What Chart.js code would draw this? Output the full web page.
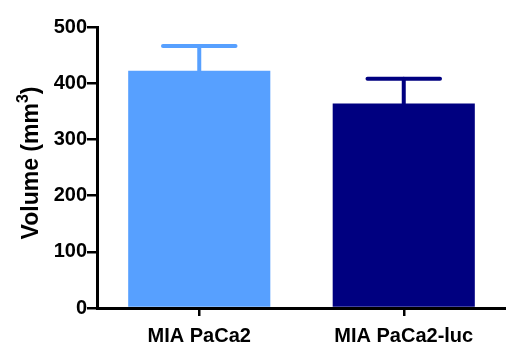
<!DOCTYPE html>
<html>
<head>
<meta charset="utf-8">
<script src="https://cdn.jsdelivr.net/npm/chart.js@4"></script>
<style>
  html, body { margin: 0; padding: 0; background: #fff; }
  #wrap { width: 506px; height: 344px; position: relative; }
</style>
</head>
<body>
<div id="wrap"><canvas id="chart"></canvas></div>
<script>
// données
const categories = ["MIA PaCa2", "MIA PaCa2-luc"]
const volumes = [422, 364]
const errors = [44, 44]
const barColors = ["#57a0ff", "#000080"]
const yTicks = [0, 100, 200, 300, 400, 500]

// barres d'erreur (moyenne + SEM, uniquement vers le haut)
const errorBars = {
    id: "errorBars",
    afterDatasetsDraw(chart) {
        const ctx = chart.ctx
        const meta = chart.getDatasetMeta(0)
        const yScale = chart.scales.y
        meta.data.forEach((bar, i) => {
            const top = yScale.getPixelForValue(volumes[i] + errors[i])
            const half = bar.width * 0.255
            ctx.save()
            ctx.strokeStyle = barColors[i]
            ctx.lineCap = "round"
            ctx.lineWidth = 4
            ctx.beginPath()
            ctx.moveTo(bar.x, bar.y)
            ctx.lineTo(bar.x, top)
            ctx.stroke()
            ctx.beginPath()
            ctx.moveTo(bar.x - half, top)
            ctx.lineTo(bar.x + half, top)
            ctx.stroke()
            ctx.restore()
        })
    },
}

// titre de l'axe Y avec exposant
const yTitle = {
    id: "yTitle",
    afterDraw(chart) {
        const ctx = chart.ctx
        const big = "bold 23px 'Liberation Sans', Arial, sans-serif"
        const small = "bold 16px 'Liberation Sans', Arial, sans-serif"
        const main = "Volume (mm"
        const sup = "3"
        const end = ")"
        ctx.save()
        ctx.fillStyle = "#000"
        ctx.textBaseline = "alphabetic"
        ctx.font = big
        const w1 = ctx.measureText(main).width
        const w3 = ctx.measureText(end).width
        ctx.font = small
        const w2 = ctx.measureText(sup).width
        const total = w1 + w2 + w3
        ctx.translate(38, 163)
        ctx.rotate(-Math.PI / 2)
        let x = -total / 2
        ctx.font = big
        ctx.fillText(main, x, 0)
        x += w1
        ctx.font = small
        ctx.fillText(sup, x, -10)
        x += w2
        ctx.font = big
        ctx.fillText(end, x, 0)
        ctx.restore()
    },
}

Chart.defaults.font.family = "'Liberation Sans', Arial, sans-serif"
Chart.defaults.font.weight = "bold"
Chart.defaults.color = "#000"

new Chart(document.getElementById("chart"), {
    type: "bar",
    data: {
        labels: categories,
        datasets: [{
            data: volumes,
            backgroundColor: barColors,
            borderWidth: 0,
            barPercentage: 0.695,
            categoryPercentage: 1,
        }],
    },
    options: {
        responsive: true,
        maintainAspectRatio: false,
        animation: false,
        layout: { padding: { top: 27, right: 0, left: 0, bottom: 0 } },
        plugins: {
            legend: { display: false },
            tooltip: { enabled: false },
        },
        scales: {
            x: {
                afterFit: (axis) => { axis.height = 36 },
                grid: {
                    display: true,
                    offset: false,
                    drawOnChartArea: false,
                    drawTicks: true,
                    tickLength: 8,
                    color: "#000",
                    lineWidth: 2.5,
                },
                border: { color: "#000", width: 3 },
                ticks: {
                    font: { size: 20, weight: "bold" },
                    padding: 8,
                    maxRotation: 0,
                },
            },
            y: {
                min: 0,
                max: 500,
                afterFit: (axis) => { axis.width = 97 },
                afterBuildTicks: (axis) => {
                    axis.ticks = yTicks.map((v) => ({ value: v }))
                },
                grid: {
                    display: true,
                    drawOnChartArea: false,
                    drawTicks: true,
                    tickLength: 10,
                    color: "#000",
                    lineWidth: 2.5,
                },
                border: { color: "#000", width: 3 },
                ticks: {
                    font: { size: 20, weight: "bold" },
                    padding: 0,
                },
            },
        },
    },
    plugins: [errorBars, yTitle],
})
</script>
</body>
</html>
